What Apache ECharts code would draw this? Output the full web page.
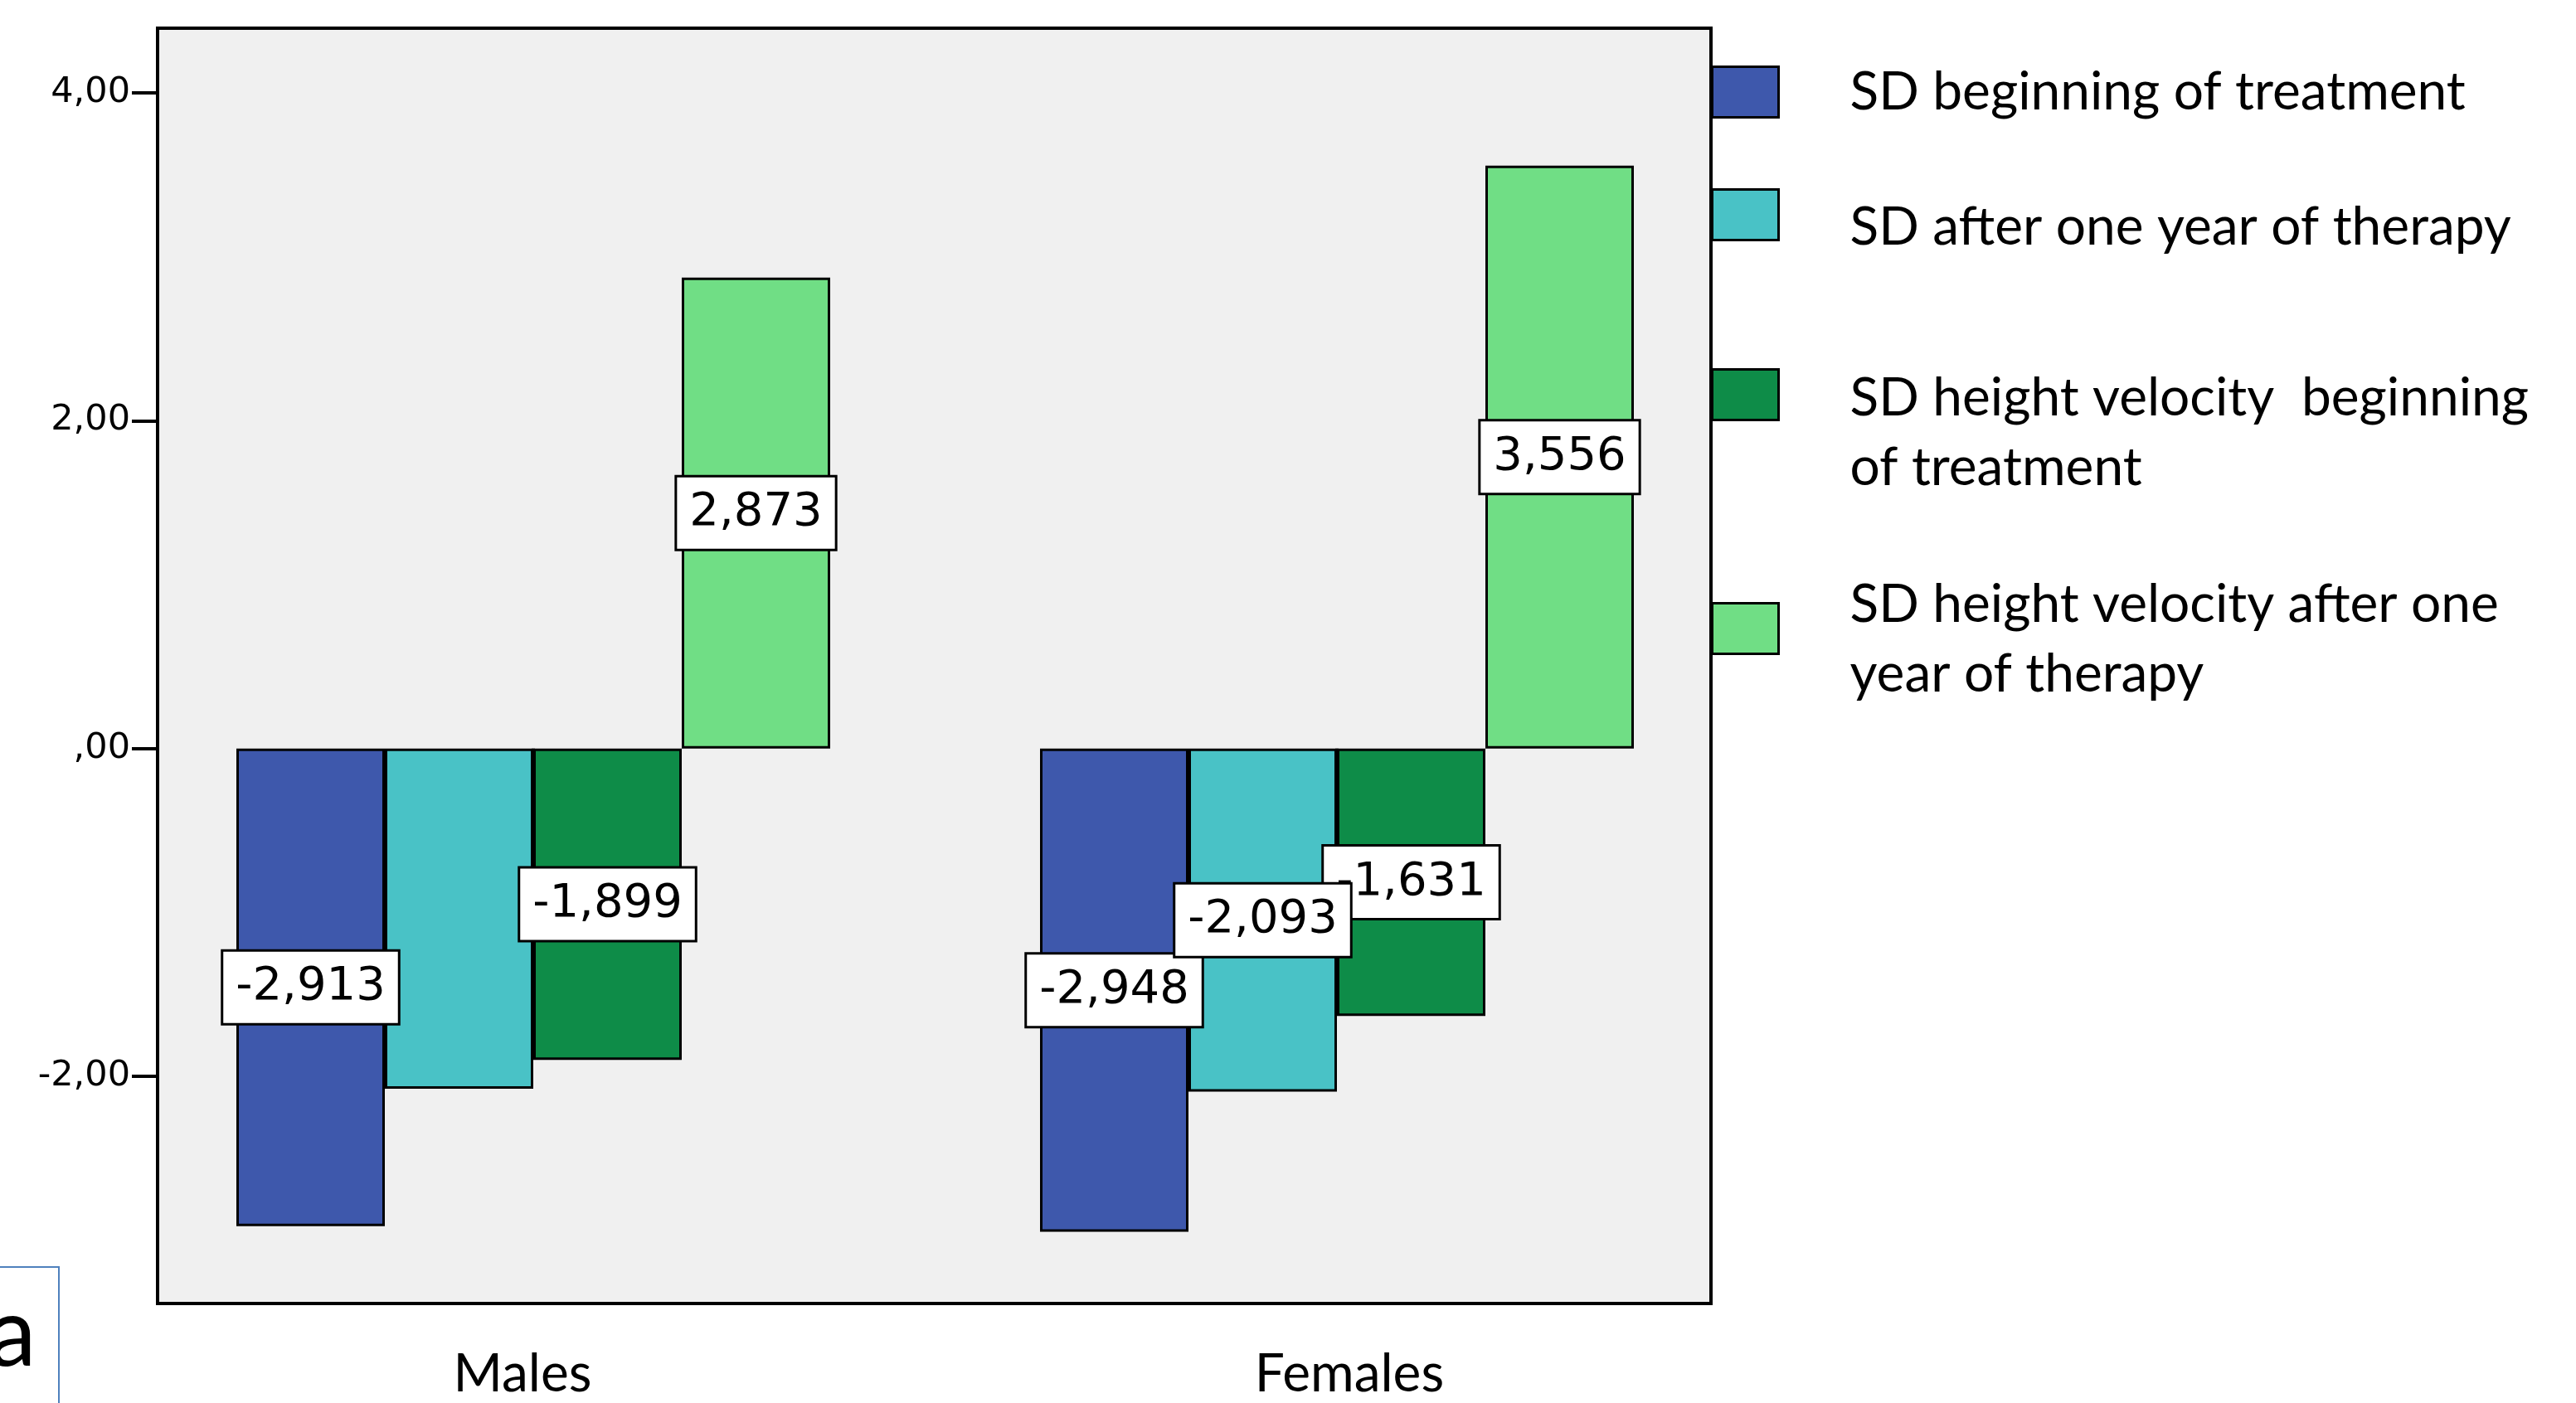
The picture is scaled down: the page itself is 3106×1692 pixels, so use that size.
<!DOCTYPE html>
<html>
<head>
<meta charset="utf-8">
<script src="https://cdn.jsdelivr.net/npm/echarts@6/dist/echarts.min.js"></script>
<style>
  html, body { margin: 0; padding: 0; background: #fff; }
  #chart { width: 3106px; height: 1692px; }
</style>
</head>
<body>
<div id="chart"></div>
<script>
// groups on the x axis
const categories = ['Males', 'Females'];
// series names, as in the legend
const seriesNames = [
  'SD beginning of treatment',
  'SD after one year of therapy',
  'SD height velocity  beginning of treatment',
  'SD height velocity after one year of therapy'
];
// legend text, wrapped like the original
const legendLabels = [
  ['SD beginning of treatment'],
  ['SD after one year of therapy'],
  ['SD height velocity  beginning', 'of treatment'],
  ['SD height velocity after one', 'year of therapy']
];
// values per series: [Males, Females]
const sdStart = [-2.913, -2.948];
const sdAfterYear = [-2.075, -2.093];
const velocityStart = [-1.899, -1.631];
const velocityAfterYear = [2.873, 3.556];
// which bars carry a value label (the original has none on the male teal bar)
const labelShown = [[true, true], [false, true], [true, true], [true, true]];
// y axis
const yMin = -3.385;
const yMax = 4.394;
const yTickValues = [-2, 0, 2, 4];
const yTickLabels = ['-2,00', ',00', '2,00', '4,00'];

const colors = ['#3E58AC', '#49C2C6', '#0E8C48', '#70DE85'];
const values = [sdStart, sdAfterYear, velocityStart, velocityAfterYear];

const chart = echarts.init(document.getElementById('chart'));

const valueLabel = {
  show: true,
  position: 'inside',
  formatter: p => p.value.toFixed(3).replace('.', ','),
  fontFamily: 'DejaVu Sans',
  fontSize: 56,
  lineHeight: 60,
  color: '#000',
  backgroundColor: '#fff',
  borderColor: '#000',
  borderWidth: 3,
  padding: [13, 15, 13, 15]
};

const series = values.map((vals, i) => ({
  name: seriesNames[i],
  type: 'bar',
  xAxisIndex: 1,
  yAxisIndex: 1,
  barWidth: 179,
  barGap: '0%',
  // teal labels are drawn by the overlay below so they sit on top
  data: vals.map((v, j) => ({value: v, label: {show: labelShown[i][j] && i !== 1}})),
  itemStyle: {color: colors[i], borderColor: '#000', borderWidth: 3},
  label: valueLabel,
  emphasis: {disabled: true}
}));

// overlay: invisible copy of the teal bars, only to put their labels above the others
series.push({
  name: 'overlay',
  type: 'bar',
  xAxisIndex: 2,
  yAxisIndex: 2,
  barWidth: 179,
  z: 3,
  silent: true,
  data: sdAfterYear.map((v, j) => ({value: v, label: {show: labelShown[1][j]}})),
  itemStyle: {color: 'transparent', borderWidth: 0},
  label: valueLabel,
  emphasis: {disabled: true}
});

// one legend block per entry, so each can sit where the original puts it
const legendTops = [79, 227, 444, 697];
const legendPads = [[0, 0, 0, 81], [31, 0, 0, 81], [92, 0, 0, 81], [26, 0, 0, 81]];
const legend = seriesNames.map((name, i) => ({
  data: [name],
  orient: 'vertical',
  left: 2063,
  top: legendTops[i],
  padding: 0,
  itemWidth: 80,
  itemHeight: 61,
  icon: 'rect',
  selectedMode: false,
  itemStyle: {borderColor: '#000', borderWidth: 3},
  formatter: () => legendLabels[i].map(s => '{t|' + s + '}').join('\n'),
  textStyle: {
    padding: legendPads[i],
    rich: {
      t: {fontFamily: 'Lato', fontSize: 64, color: '#000', lineHeight: i < 2 ? 61 : 84}
    }
  }
}));

chart.setOption({
  animation: false,
  backgroundColor: '#fff',
  grid: [
    {left: 190, top: 34, width: 1873, height: 1538, show: true,
      backgroundColor: '#F0F0F0', borderColor: '#000', borderWidth: 4},
    {left: 158.5, top: 34, width: 1938, height: 1538, show: false},
    {left: 69, top: 34, width: 1938, height: 1538, show: false}
  ],
  xAxis: [
    {gridIndex: 0, type: 'value', show: false},
    {
      gridIndex: 1, type: 'category', data: categories,
      axisLine: {show: false},
      axisTick: {show: true, alignWithLabel: true, length: 28, lineStyle: {color: '#000', width: 4}},
      axisLabel: {
        margin: 53,
        formatter: (v, i) => (i === 0 ? '{m|' : '{f|') + v + '}',
        rich: {
          m: {fontFamily: 'Lato', fontSize: 64, color: '#000', padding: [0, 26, 0, 0]},
          f: {fontFamily: 'Lato', fontSize: 64, color: '#000', padding: [0, 0, 0, 30]}
        }
      },
      splitLine: {show: false}
    },
    {gridIndex: 2, type: 'category', data: categories, show: false}
  ],
  yAxis: [
    {
      gridIndex: 0, type: 'value', min: yMin, max: yMax,
      axisLine: {show: false},
      axisTick: {show: true, customValues: yTickValues, length: 31, lineStyle: {color: '#000', width: 4}},
      axisLabel: {
        customValues: yTickValues,
        formatter: v => yTickLabels[yTickValues.indexOf(v)],
        fontFamily: 'DejaVu Sans', fontSize: 43, color: '#000', margin: 33
      },
      splitLine: {show: false}
    },
    {gridIndex: 1, type: 'value', min: yMin, max: yMax, show: false, splitLine: {show: false}},
    {gridIndex: 2, type: 'value', min: yMin, max: yMax, show: false, splitLine: {show: false}}
  ],
  legend: legend,
  series: series,
  graphic: [
    {type: 'rect', shape: {x: -2, y: 1528, width: 73, height: 180},
      style: {fill: 'none', stroke: '#4F81BD', lineWidth: 2}},
    {type: 'text', x: -14, y: 1668,
      style: {text: 'a', fontFamily: 'Lato', fontSize: 116, fill: '#000', verticalAlign: 'bottom'}}
  ]
});
</script>
</body>
</html>
